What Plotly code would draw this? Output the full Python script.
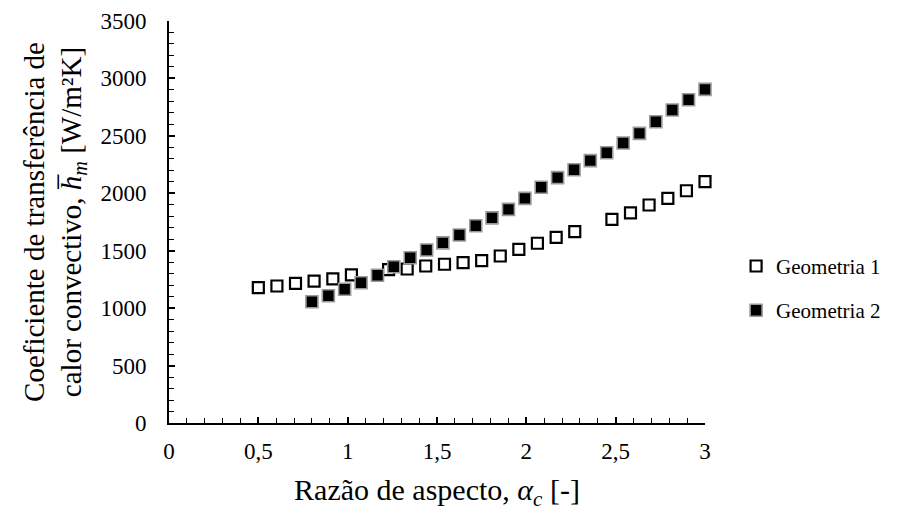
import plotly.graph_objects as go

# Geometria 1 (open squares)
g1_x = [0.500, 0.604, 0.708, 0.812, 0.917, 1.021, 1.229, 1.333, 1.437, 1.542,
        1.646, 1.750, 1.854, 1.958, 2.062, 2.167, 2.271, 2.479, 2.583, 2.687,
        2.792, 2.896, 3.000]
g1_y = [1178, 1193, 1216, 1236, 1254, 1289, 1335, 1341, 1367, 1382,
        1396, 1413, 1454, 1512, 1565, 1617, 1666, 1773, 1830, 1898,
        1956, 2022, 2101]

# Geometria 2 (filled squares)
g2_x = [0.800, 0.892, 0.983, 1.075, 1.167, 1.258, 1.350, 1.442, 1.533, 1.625,
        1.717, 1.808, 1.900, 1.992, 2.083, 2.175, 2.267, 2.358, 2.450, 2.542,
        2.633, 2.725, 2.817, 2.908, 3.000]
g2_y = [1056, 1108, 1164, 1221, 1286, 1361, 1439, 1506, 1568, 1637,
        1718, 1786, 1860, 1956, 2052, 2136, 2205, 2284, 2353, 2438,
        2522, 2623, 2725, 2815, 2905]

FONT = "Liberation Serif, Times New Roman, serif"

fig = go.Figure()
fig.add_trace(go.Scatter(
    x=g1_x, y=g1_y, mode="markers", name="Geometria 1", legendgroup="g1",
    marker=dict(symbol="square", size=11, color="white",
                line=dict(color="black", width=2.2)),
    cliponaxis=False,
))
fig.add_trace(go.Scatter(
    x=g2_x, y=g2_y, mode="markers", name="Geometria 2", legendgroup="g2",
    marker=dict(symbol="square", size=12, color="black",
                line=dict(color="#9a9a9a", width=1.6)),
    cliponaxis=False,
))

axis_common = dict(
    showgrid=False, zeroline=False, showline=True, linecolor="black",
    linewidth=2, ticks="inside", ticklen=6, tickwidth=1.5, tickcolor="black",
    tickfont=dict(family=FONT, size=23, color="black"), mirror=False,
)

fig.update_xaxes(
    range=[0, 3], dtick=0.5, tick0=0,
    minor=dict(dtick=0.1, ticks="inside", ticklen=5, tickwidth=1.3, tickcolor="black"),
    ticklabelstandoff=6,
    title=dict(text="Razão de aspecto, <i>α</i><sub><i>c</i></sub> [-]",
               font=dict(family=FONT, size=30, color="black"), standoff=16),
    **axis_common,
)
fig.update_yaxes(
    range=[0, 3500], dtick=500, tick0=0,
    minor=dict(dtick=100, ticks="inside", ticklen=5, tickwidth=1.3, tickcolor="black"),
    ticklabelstandoff=16,
    title=dict(text="Coeficiente de transferência de<br>calor convectivo, <i>h̅</i><sub><i>m</i></sub> [W/m²K]",
               font=dict(family=FONT, size=29, color="black"), standoff=10),
    **axis_common,
)

fig.update_layout(
    width=907, height=516,
    margin=dict(l=169, r=202, t=21, b=93, autoexpand=False),
    paper_bgcolor="white", plot_bgcolor="white",
    separators=", ",
    font=dict(family=FONT, color="black"),
    showlegend=True,
    legend=dict(x=1.058, xanchor="left", y=0.335, yanchor="middle",
                font=dict(family=FONT, size=21, color="black"),
                tracegroupgap=14, itemwidth=30, bgcolor="rgba(0,0,0,0)"),
)

fig.write_html("out.html")
